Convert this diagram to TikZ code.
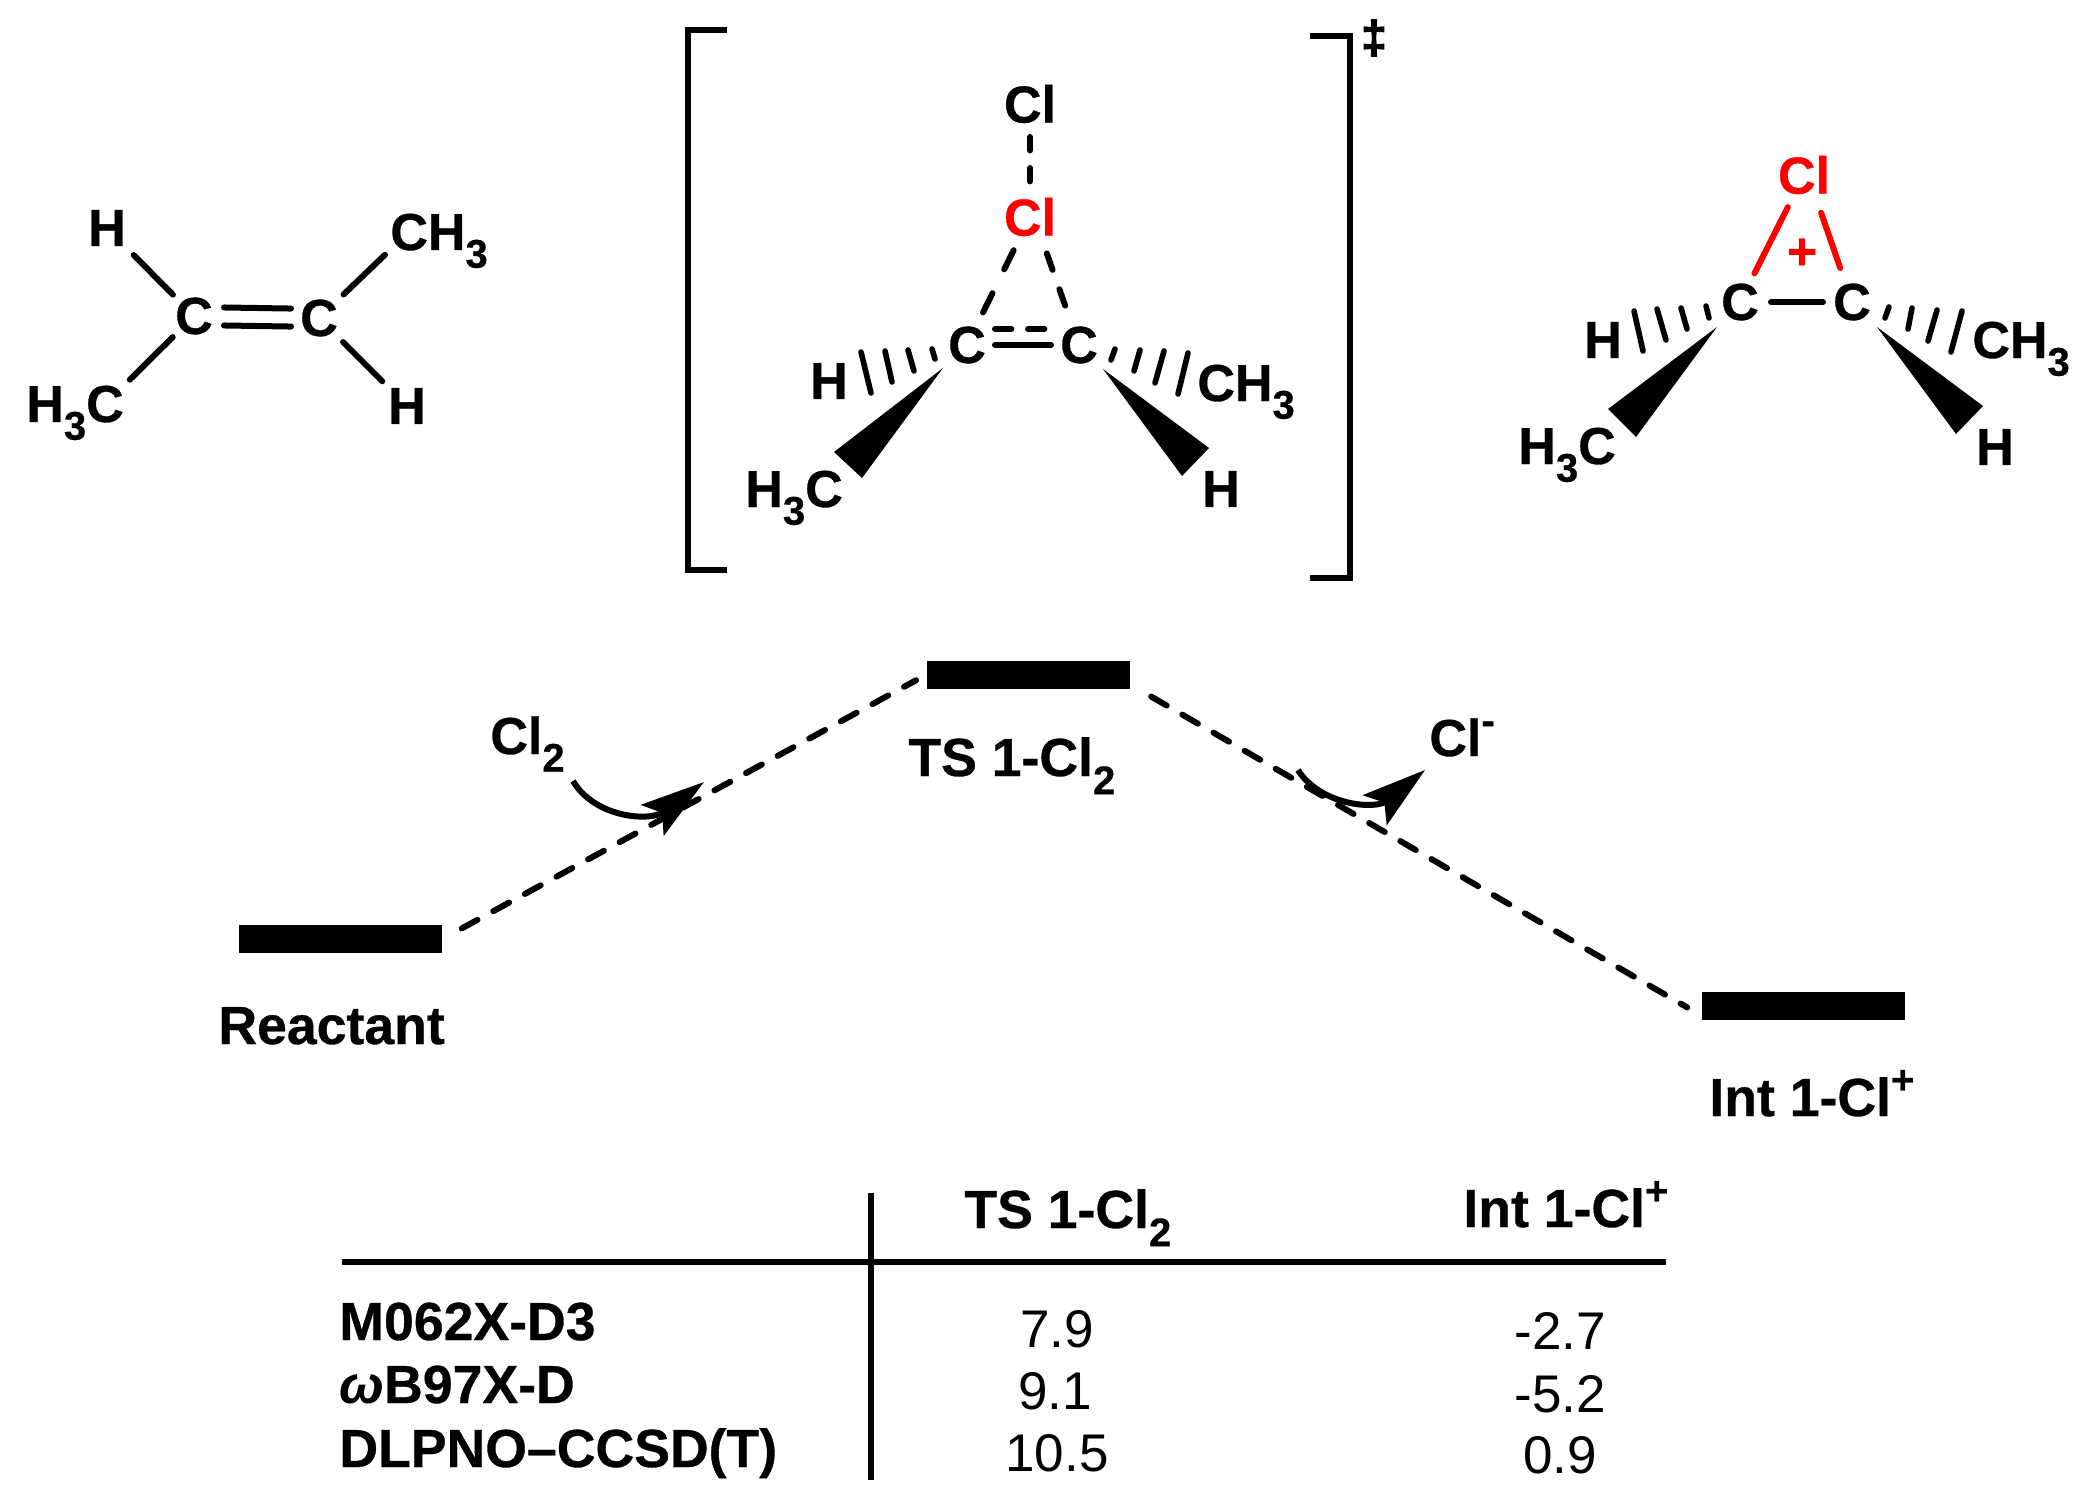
\documentclass[tikz,border=0pt]{standalone}
\usepackage{fontspec}
\setmainfont{Liberation Sans}[BoldFeatures={FakeBold=0.6}]
\newfontfamily\dgfont{Liberation Sans Bold}[FakeBold=3]
\usetikzlibrary{arrows.meta}
\newcommand{\chemsub}[1]{\raisebox{-0.34em}{\fontsize{20}{20}\selectfont #1}}
\newcommand{\chemsup}[1]{\raisebox{0.42em}{\fontsize{20}{20}\selectfont #1}}
\tikzset{
  atom/.style={font=\fontsize{26}{30}\selectfont\bfseries,inner sep=0pt},
  lbl/.style={font=\fontsize{26.8}{30}\selectfont\bfseries,inner sep=0pt,anchor=base west},
  num/.style={font=\fontsize{26.5}{30}\selectfont,inner sep=0pt,anchor=base},
  bond/.style={line width=3pt,line cap=round},
  hash/.style={line width=2.8pt,line cap=round},
  brk/.style={line width=3pt},
  lvl/.style={fill=black,inner sep=0pt,minimum width=101.5pt,minimum height=14pt},
  path/.style={line width=3pt,line cap=round,dash pattern=on 9pt off 9pt},
  curv/.style={line width=3pt,-{Stealth[length=32pt,width=19pt,inset=6pt]}}
}
\begin{document}
\begin{tikzpicture}[x=0.5pt,y=-0.5pt]
  \useasboundingbox (0,0) rectangle (2092,1508);
  % reactant
  \node[atom] (c1) at (194,316) {C};
  \node[atom] (c2) at (319,318) {C};
  \node[atom] (h1) at (107,228) {H};
  \node[atom] (h2) at (407,406) {H};
  \node[atom,anchor=base west] (me1) at (26,422) {H\chemsub{3}C};
  \node[atom,anchor=base west] (me2) at (390,250) {CH\chemsub{3}};
  \draw[bond,shorten <=15pt,shorten >=19pt] (c1.center) -- (h1.center);
  \draw[bond,shorten <=15pt,shorten >=4pt] (c1.center) -- (me1.north east);
  \draw[bond,shorten <=17pt,shorten >=3.5pt] (c2.center) -- (me2.base west);
  \draw[bond,shorten <=17pt,shorten >=17.5pt] (c2.center) -- (h2.center);
  \draw[bond,shorten <=15pt,shorten >=14pt] ([yshift=4.5pt]c1.center) -- ([yshift=4.5pt]c2.center);
  \draw[bond,shorten <=15pt,shorten >=14pt] ([yshift=-4.5pt]c1.center) -- ([yshift=-4.5pt]c2.center);
  % transition state
  \draw[brk] (727,30) -- (688,30) -- (688,570) -- (727,570);
  \draw[brk] (1310,36) -- (1350,36) -- (1350,578) -- (1310,578);
  \node[inner sep=0pt,font=\fontsize{23}{23}\selectfont\dgfont] (dg) at (1374,38) {‡};
  \node[atom] (tcl) at (1030,104) {Cl};
  \node[atom,red] (tclr) at (1030,217) {Cl};
  \node[atom] (tc1) at (967,345) {C};
  \node[atom] (tc2) at (1079,345) {C};
  \node[atom] (th1) at (829,381) {H};
  \node[atom] (th2) at (1221,489) {H};
  \node[atom,anchor=base west] (tme1) at (745,507) {H\chemsub{3}C};
  \node[atom,anchor=base west] (tme2) at (1197,401) {CH\chemsub{3}};
  \draw[bond,dash pattern=on 6.7pt off 8.8pt,shorten <=16.5pt,shorten >=15pt] (tcl.center) -- (tclr.center);
  \draw[bond,dash pattern=on 10.7pt off 13.3pt,shorten <=18.5pt,shorten >=14.5pt] (tclr.center) -- (tc1.center);
  \draw[bond,dash pattern=on 8.7pt off 10.3pt,shorten <=19.3pt,shorten >=18pt] ([xshift=2pt]tclr.center) -- (tc2.center);
  \draw[bond,dash pattern=on 8.2pt off 8.3pt,shorten <=14pt,shorten >=14pt] ([yshift=8pt]tc1.center) -- ([yshift=8pt]tc2.center);
  \draw[bond,shorten <=14pt,shorten >=14pt] (tc1.center) -- (tc2.center);
  \foreach \xa/\ya/\xb/\yb in {861/352/871/393,885/351/892/382,908/350/914/371,932/349/935/359,
    1115/349/1111/360,1140/350/1134/371,1164/351/1155/383,1188/353/1178/394}
    \draw[hash] (\xa,\ya) -- (\xb,\yb);
  \fill (943,368) -- (834,452) -- (862,478) -- cycle;
  \fill (1103,369) -- (1209,448) -- (1182,476) -- cycle;
  % intermediate
  \node[atom,red] (icl) at (1804,175) {Cl};
  \node[atom,red] (pl) at (1802,254) {+};
  \node[atom] (ic1) at (1740,302) {C};
  \node[atom] (ic2) at (1852,302) {C};
  \node[atom] (ih1) at (1603,340) {H};
  \node[atom] (ih2) at (1995,447) {H};
  \node[atom,anchor=base west] (ime1) at (1518,464) {H\chemsub{3}C};
  \node[atom,anchor=base west] (ime2) at (1972,358) {CH\chemsub{3}};
  \draw[bond,red,shorten <=18pt,shorten >=16pt] (icl.center) -- (ic1.center);
  \draw[bond,red,shorten <=20pt,shorten >=18pt] ([xshift=2pt]icl.center) -- (ic2.center);
  \draw[bond,shorten <=15.5pt,shorten >=14.5pt] (ic1.center) -- (ic2.center);
  \foreach \xa/\ya/\xb/\yb in {1634/311/1643/351,1657/309/1666/340,1681/308/1687/329,1706/306/1709/318,
    1889/307/1885/318,1912/308/1908/329,1937/310/1928/341,1962/311/1951/352}
    \draw[hash] (\xa,\ya) -- (\xb,\yb);
  \fill (1717,327) -- (1608,409) -- (1636,437) -- cycle;
  \fill (1877,327) -- (1983,406) -- (1956,434) -- cycle;
  % energy levels
  \node[lvl] (react) at (340.5,939) {};
  \node[lvl] (ts) at (1028.5,674.5) {};
  \node[lvl] (int) at (1803,1005.5) {};
  \node[lbl] (lreact) at (218,1044) {Reactant};
  \node[lbl] (lts) at (908,776) {TS 1-Cl\chemsub{2}};
  \node[lbl] (lint) at (1709,1116) {Int 1-Cl\chemsup{+}};
  \node[atom,anchor=base west] (cl2) at (490,754) {Cl\chemsub{2}};
  \node[atom,anchor=base west] (clm) at (1429,756) {Cl\chemsup{-}};
  \draw[path,shorten <=11pt,shorten >=6pt] (react.east) -- (ts.west);
  \draw[path,shorten <=12pt,shorten >=8pt] ([yshift=-5pt]ts.east) -- ([yshift=-5pt]int.west);
  \coordinate (ain) at (573,781);
  \coordinate (ainend) at (704,782);
  \coordinate (aout) at (1298,770);
  \coordinate (aoutend) at (1425,770);
  \draw[curv] (ain) .. controls (595,818) and (650,822) .. (ainend);
  \draw[curv] (aout) .. controls (1320,805) and (1375,810) .. (aoutend);
  % table
  \coordinate (rl) at (342,1262);
  \coordinate (rr) at (1666,1262);
  \coordinate (vt) at (871,1193);
  \coordinate (vb) at (871,1480);
  \draw[line width=3.2pt] (rl) -- (rr);
  \draw[line width=3pt] (vt) -- (vb);
  \node[lbl] (hts) at (964,1228) {TS 1-Cl\chemsub{2}};
  \node[lbl] (hint) at (1463,1227) {Int 1-Cl\chemsup{+}};
  \node[lbl] (m1) at (339,1340) {M062X-D3};
  \node[lbl] (m2) at (339,1403) {\textit{ω}B97X-D};
  \node[lbl] (m3) at (339,1467) {DLPNO–CCSD(T)};
  \node[num] (a1) at (1057,1347) {7.9};
  \node[num] (a2) at (1055,1409) {9.1};
  \node[num] (a3) at (1057,1471) {10.5};
  \node[num] (b1) at (1560,1349) {-2.7};
  \node[num] (b2) at (1560,1412) {-5.2};
  \node[num] (b3) at (1560,1473) {0.9};
\end{tikzpicture}
\end{document}
